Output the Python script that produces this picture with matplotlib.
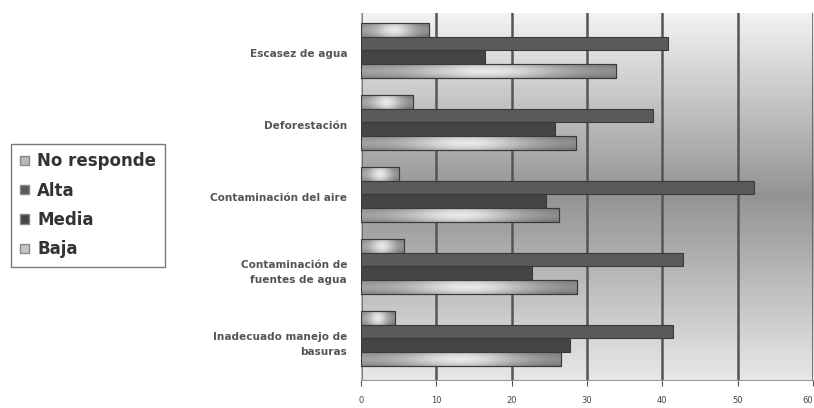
import numpy as np
import matplotlib.pyplot as plt
from matplotlib.patches import Patch

categorias = ['Escasez de agua', 'Deforestación', 'Contaminación del aire',
              'Contaminación de\nfuentes de agua', 'Inadecuado manejo de\nbasuras']
series = ['No responde', 'Alta', 'Media', 'Baja']
no_responde = [9.0, 6.9, 5.1, 5.7, 4.5]
alta = [40.8, 38.8, 52.1, 42.8, 41.4]
media = [16.5, 25.7, 24.6, 22.7, 27.8]
baja = [33.8, 28.5, 26.3, 28.7, 26.6]
ticks = [0, 10, 20, 30, 40, 50, 60]

valores = [no_responde, alta, media, baja]
colores = ['#b8b8b8', '#5a5a5a', '#454545', '#c4c4c4']
claros = [True, False, False, True]

fig = plt.figure(figsize=(8.14, 4.08), dpi=100)
ax = fig.add_axes([0.4435, 0.068, 0.5553, 0.90])

# fondo degradado vertical: blanco arriba, gris en el centro, claro abajo
g = np.concatenate([np.linspace(1.0, 0.58, 50), np.linspace(0.58, 0.95, 50)])
fondo = np.tile(g[:, None], (1, 10))
ax.imshow(fondo, cmap='gray', vmin=0, vmax=1, extent=[0, 60, 4.9, -0.9],
          aspect='auto', zorder=0)

# sombreado de las barras claras
t = np.linspace(0, 1, 80)
sh_x = 0.62 + 0.33 * np.exp(-((t - 0.5) / 0.28) ** 2) - 0.08 * t
u = np.linspace(-1, 1, 12)
sh_y = 1.0 - 0.18 * u ** 2
sombra = np.clip(np.outer(sh_y, sh_x), 0, 1)

alto = 0.19
n = len(categorias)
for i in range(n):
    for j in range(4):
        y = i - 0.38 + j * alto + alto / 2 - 0.03
        v = valores[j][i]
        bar = ax.barh(y, v, height=alto, color=colores[j], edgecolor='#3a3a3a',
                      linewidth=0.8, zorder=3)
        if claros[j]:
            im = ax.imshow(sombra, cmap='gray', vmin=0, vmax=1,
                           extent=[0, v, y + alto / 2, y - alto / 2],
                           aspect='auto', zorder=3.5)
            im.set_clip_path(bar.patches[0])
            ax.barh(y, v, height=alto, fill=False, edgecolor='#3a3a3a',
                    linewidth=0.8, zorder=4)

ax.set_xlim(0, 60)
ax.set_ylim(4.55, -0.55)
ax.set_xticks(ticks)
ax.set_xticklabels([str(t) for t in ticks], fontsize=6, color='#444444')
ax.get_xticklabels()[-1].set_horizontalalignment('right')
ax.tick_params(axis='x', length=4, color='#555555', pad=7)
ax.grid(axis='x', color='#555555', linewidth=1.8, zorder=1)
ax.set_yticks(range(n))
ax.set_yticklabels(categorias, fontsize=7.6, fontweight='bold', color='#555555',
                   linespacing=1.7)
ax.tick_params(axis='y', length=0, pad=10)
for s in ['top', 'right']:
    ax.spines[s].set_visible(False)
ax.spines['left'].set_color('#bbbbbb')
ax.spines['bottom'].set_color('#999999')

handles = [Patch(facecolor=c, edgecolor='#888888') for c in colores]
fig.legend(handles, series, loc='center left', bbox_to_anchor=(0.014, 0.497),
           frameon=True, fancybox=False, edgecolor='#555555',
           prop={'size': 12, 'weight': 'bold'}, handlelength=0.55,
           handleheight=0.5, handletextpad=0.5, labelspacing=0.68,
           labelcolor='#333333', borderpad=0.5, borderaxespad=0)

fig.savefig('out.png', dpi=100)
